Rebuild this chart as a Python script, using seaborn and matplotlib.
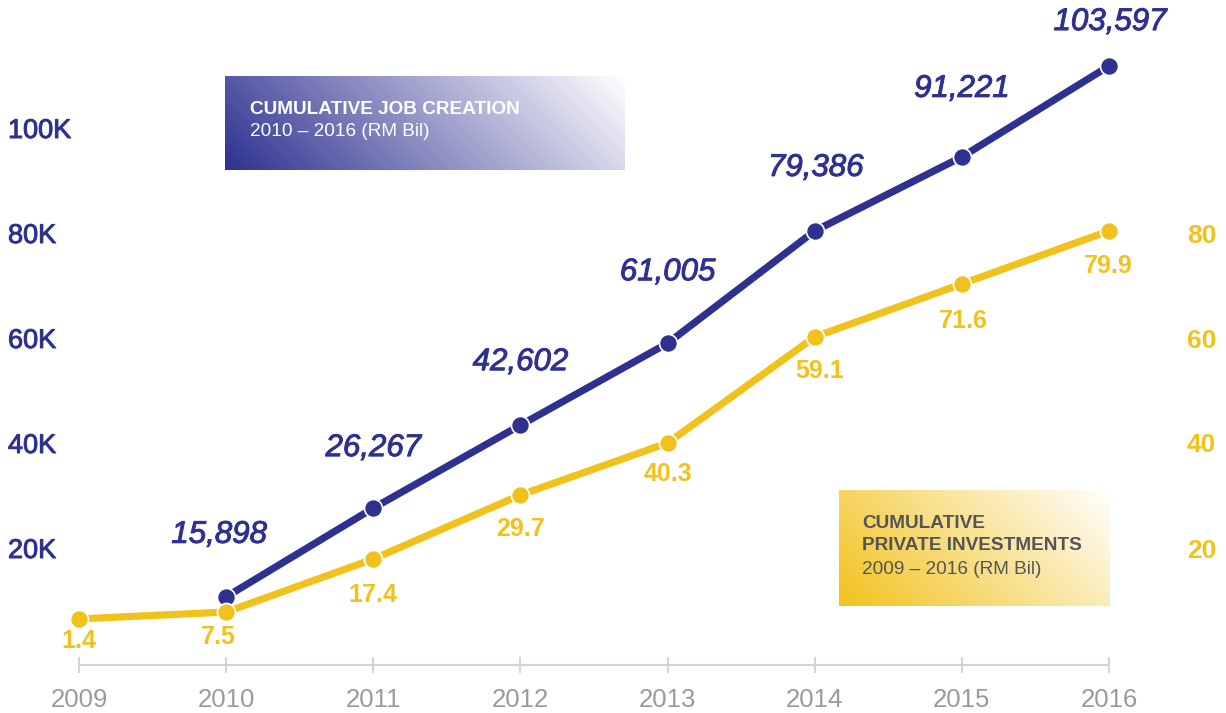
import numpy as np
import pandas as pd
import matplotlib
matplotlib.use("Agg")
import matplotlib.pyplot as plt
import matplotlib.colors as mcolors
import matplotlib.patheffects as pe
import seaborn as sns

# ---------------- data ----------------
years = [2009, 2010, 2011, 2012, 2013, 2014, 2015, 2016]
year_labels = ["2009", "2010", "2011", "2012", "2013", "2014", "2015", "2016"]

job_years = [2010, 2011, 2012, 2013, 2014, 2015, 2016]
job_values_k = [10.7, 27.6, 43.4, 59.0, 80.4, 94.5, 111.8]          # plotted positions (thousands)
job_labels = ["15,898", "26,267", "42,602", "61,005", "79,386", "91,221", "103,597"]

inv_years = [2009, 2010, 2011, 2012, 2013, 2014, 2015, 2016]
inv_values = [6.5, 7.8, 17.9, 30.1, 40.0, 60.2, 70.3, 80.4]          # plotted positions (RM Bil)
inv_labels = ["1.4", "7.5", "17.4", "29.7", "40.3", "59.1", "71.6", "79.9"]

left_ticks = [20, 40, 60, 80, 100]
left_tick_labels = ["20K", "40K", "60K", "80K", "100K"]
right_ticks = [20, 40, 60, 80]
right_tick_labels = ["20", "40", "60", "80"]

job_box_lines = ["CUMULATIVE JOB CREATION", "2010 \u2013 2016 (RM Bil)"]
inv_box_lines = ["CUMULATIVE", "PRIVATE INVESTMENTS", "2009 \u2013 2016 (RM Bil)"]

# ---------------- style ----------------
BLUE = "#2E3190"
YELLOW = "#F2C21C"
GREY = "#9A9A9A"
AXIS_GREY = "#D4D4D4"

sns.set_theme(style="white")
plt.rcParams["font.family"] = ["Liberation Sans", "DejaVu Sans"]

W, H = 1226, 713
fig = plt.figure(figsize=(W / 100, H / 100), dpi=100)
fig.patch.set_facecolor("white")


def fx(px):
    return px / W


def fy(py):
    return 1 - py / H


# main axes: x 2009 -> px 79, 2016 -> px 1109; y: 0 -> px 653, 5.25 px per unit
ax = fig.add_axes([fx(79), fy(665), (1109 - 79) / W, (665 - 10) / H])
ylo, yhi = -12 / 5.25, 643 / 5.25
ax.set_xlim(2009, 2016)
ax.set_ylim(ylo, yhi)
ax2 = ax.twinx()
ax2.set_ylim(ylo, yhi)
ax.patch.set_alpha(0)
ax2.patch.set_alpha(0)

df_job = pd.DataFrame({"year": job_years, "value": job_values_k})
df_inv = pd.DataFrame({"year": inv_years, "value": inv_values})

sns.lineplot(data=df_job, x="year", y="value", ax=ax, color=BLUE, linewidth=5.2,
             marker="o", markersize=13, markeredgecolor="white", markeredgewidth=1.2,
             clip_on=False, estimator=None, zorder=3)
sns.lineplot(data=df_inv, x="year", y="value", ax=ax2, color=YELLOW, linewidth=5.2,
             marker="o", markersize=13, markeredgecolor="white", markeredgewidth=1.2,
             clip_on=False, estimator=None, zorder=3)

medium_blue = [pe.withStroke(linewidth=0.7, foreground=BLUE)]

# value labels (offsets in pixels)
job_offsets = [(-7, 62), (0, 60), (0, 63), (0, 71), (1, 63), (0, 68), (1, 44)]
for yr, v, lab, (dx, dy) in zip(job_years, job_values_k, job_labels, job_offsets):
    ax.annotate(lab, xy=(yr, v), xytext=(dx * 0.72, dy * 0.72), textcoords="offset points",
                ha="center", va="center", fontsize=22.5, style="italic", color=BLUE,
                annotation_clip=False, path_effects=medium_blue)

inv_offsets = [(0, -22), (-8, -25), (0, -36), (0, -34), (0, -31), (5, -34), (1, -37), (-1, -35)]
for yr, v, lab, (dx, dy) in zip(inv_years, inv_values, inv_labels, inv_offsets):
    ax2.annotate(lab, xy=(yr, v), xytext=(dx * 0.72, dy * 0.72), textcoords="offset points",
                 ha="center", va="center", fontsize=18, fontweight="bold", color=YELLOW,
                 annotation_clip=False)

# axes styling
for s in ["left", "right", "top"]:
    ax.spines[s].set_visible(False)
    ax2.spines[s].set_visible(False)
ax2.spines["bottom"].set_visible(False)
ax.spines["bottom"].set_color(AXIS_GREY)
ax.spines["bottom"].set_linewidth(1.5)

ax.set_xticks(years)
ax.set_xticklabels(year_labels)
ax.tick_params(axis="x", direction="inout", length=11.5, width=1.4, color=AXIS_GREY,
               labelsize=18.5, labelcolor=GREY, pad=10.5, bottom=True)

ax.set_yticks(left_ticks)
ax.set_yticklabels(left_tick_labels)
ax.tick_params(axis="y", length=0, labelsize=19.5, labelcolor=BLUE, pad=71 * 0.72)
for t in ax.get_yticklabels():
    t.set_horizontalalignment("left")
    t.set_path_effects(medium_blue)

ax2.set_yticks(right_ticks)
ax2.set_yticklabels(right_tick_labels)
ax2.tick_params(axis="y", length=0, labelsize=19, labelcolor=YELLOW, pad=78 * 0.72)
for t in ax2.get_yticklabels():
    t.set_fontweight("bold")

ax.set_xlabel("")
ax.set_ylabel("")
ax2.set_ylabel("")
ax.grid(False)
ax2.grid(False)


# gradient boxes
def grad_box(x0, y0, x1, y1, color):
    w, h = x1 - x0, y1 - y0
    bax = fig.add_axes([fx(x0), fy(y1), w / W, h / H])
    u = np.linspace(0, 1, 300)[None, :]
    v = np.linspace(0, 1, 150)[:, None]
    t = (u * w + (1 - v) * h) / (w + h)
    c = np.array(mcolors.to_rgb(color))
    img = c[None, None, :] * (1 - t[..., None]) + np.ones(3)[None, None, :] * t[..., None]
    bax.imshow(np.clip(img, 0, 1), aspect="auto", extent=[0, 1, 0, 1], interpolation="bilinear")
    bax.axis("off")
    return bax


grad_box(225, 76, 625, 170, BLUE)
grad_box(839, 490, 1109, 606, YELLOW)

fig.text(fx(250), fy(110), job_box_lines[0], color="white", fontsize=13.7,
         fontweight="bold", ha="left", va="center")
fig.text(fx(250), fy(132), job_box_lines[1], color="white", fontsize=13.7,
         ha="left", va="center")

fig.text(fx(862), fy(523), inv_box_lines[0], color="#555555", fontsize=13.7,
         fontweight="bold", ha="left", va="center")
fig.text(fx(862), fy(546), inv_box_lines[1], color="#555555", fontsize=13.7,
         fontweight="bold", ha="left", va="center")
fig.text(fx(862), fy(569), inv_box_lines[2], color="#555555", fontsize=13.7,
         ha="left", va="center")

fig.savefig("out.png", dpi=100, facecolor="white")
